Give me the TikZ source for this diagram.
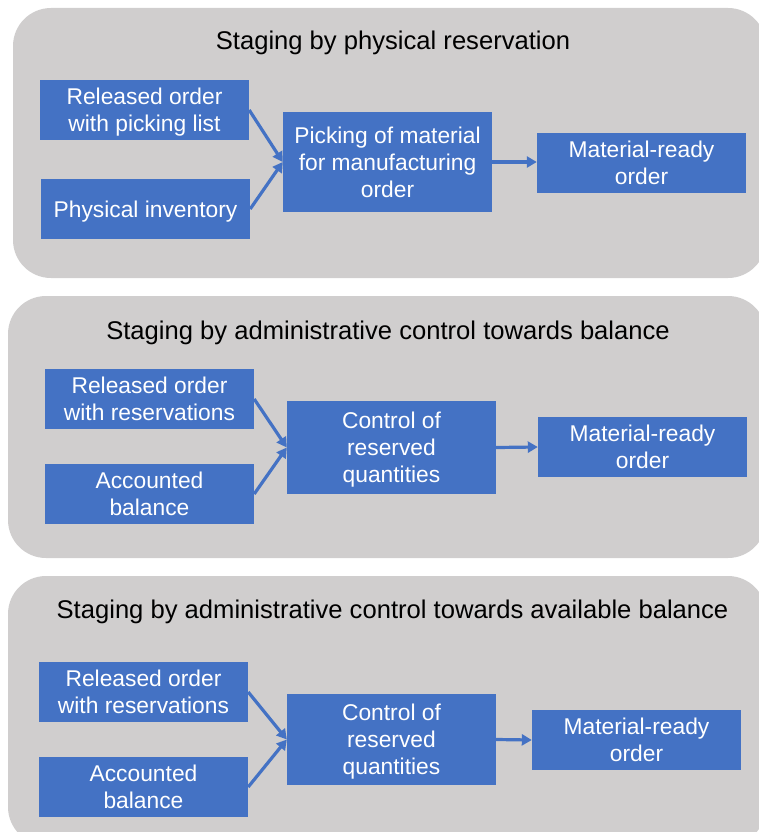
\documentclass[tikz,border=0pt]{standalone}
\usepackage{fontspec}
\setmainfont{Liberation Sans}
\usetikzlibrary{arrows.meta}
\definecolor{panelgray}{RGB}{208,206,206}
\definecolor{boxblue}{RGB}{68,114,196}
\begin{document}
\begin{tikzpicture}[x=1pt,y=-1pt,
  panel/.style={fill=panelgray, rounded corners=38pt},
  title/.style={font=\fontsize{25.6}{30}\selectfont, text=black, inner sep=0pt, anchor=base},
  stepbox/.style={fill=boxblue, text=white, minimum width=209pt, minimum height=60pt,
    inner sep=0pt, text depth=0pt, align=center, font=\fontsize{22.8}{27}\selectfont},
  flow/.style={draw=boxblue, line width=3.2pt, -{Triangle[length=10pt,width=11pt]}}
]
\useasboundingbox (0,0) rectangle (759,832);

% background panels
\fill[panel] (13,8) rectangle (766,278);
\fill[panel] (8,296) rectangle (766,558);
\fill[panel] (8,576) rectangle (766,845);

% staging by physical reservation
\node[title] (t1) at (393,50) {Staging by physical reservation};
\node[stepbox] (rel1) at (144.5,110) {Released order\\with picking list};
\node[stepbox] (inv1) at (145.5,209) {Physical inventory};
\node[stepbox, minimum height=100pt] (pick1) at (387.5,162) {Picking of material\\for manufacturing\\order};
\node[stepbox] (mr1) at (641.5,163) {Material-ready\\order};
\draw[flow] (rel1.east) -- (pick1.west);
\draw[flow] (inv1.east) -- (pick1.west);
\draw[flow] (pick1.east) -- (pick1.east -| mr1.west);

% staging by administrative control towards balance
\node[title] (t2) at (388,339) {Staging by administrative control towards balance};
\node[stepbox] (rel2) at (149.5,399) {Released order\\with reservations};
\node[stepbox] (acc2) at (149.5,494) {Accounted\\balance};
\node[stepbox, minimum height=93pt] (ctl2) at (391.5,447.5) {Control of\\reserved\\quantities};
\node[stepbox] (mr2) at (642.5,447) {Material-ready\\order};
\draw[flow] (rel2.east) -- (ctl2.west);
\draw[flow] (acc2.east) -- (ctl2.west);
\draw[flow] (ctl2.east) -- (mr2.west);

% staging by administrative control towards available balance
\node[title] (t3) at (392.5,618) {Staging by administrative control towards available balance};
\node[stepbox] (rel3) at (143.5,692) {Released order\\with reservations};
\node[stepbox] (acc3) at (143.5,787) {Accounted\\balance};
\node[stepbox, minimum height=91pt] (ctl3) at (391.5,739.5) {Control of\\reserved\\quantities};
\node[stepbox] (mr3) at (636.5,740) {Material-ready\\order};
\draw[flow] (rel3.east) -- (ctl3.west);
\draw[flow] (acc3.east) -- (ctl3.west);
\draw[flow] (ctl3.east) -- (mr3.west);
\end{tikzpicture}
\end{document}
